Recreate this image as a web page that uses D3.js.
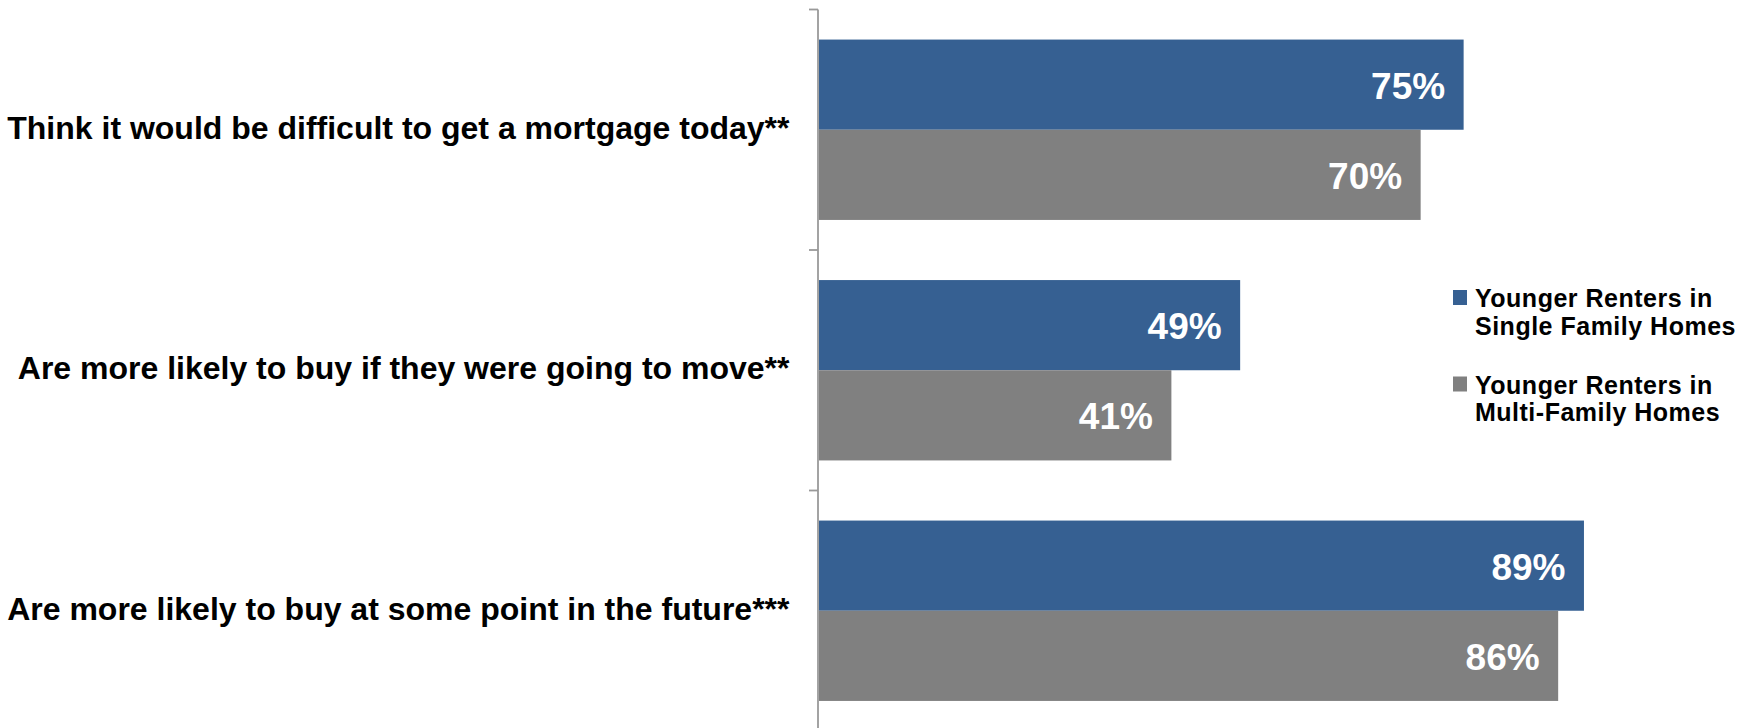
<!DOCTYPE html>
<html>
<head>
<meta charset="utf-8">
<script src="https://cdn.jsdelivr.net/npm/d3@7"></script>
<style>
  html, body { margin: 0; padding: 0; background: #fff; }
  svg { display: block; }
  text { font-family: "Liberation Sans", Arial, sans-serif; }
</style>
</head>
<body>
<svg id="chart" width="1757" height="728"></svg>
<script>
// Survey questions (one group of bars per question)
const categories = [
  "Think it would be difficult to get a mortgage today**",
  "Are more likely to buy if they were going to move**",
  "Are more likely to buy at some point in the future***"
];

// Share of respondents agreeing, per renter group
const seriesNames = [
  "Younger Renters in Single Family Homes",
  "Younger Renters in Multi-Family Homes"
];
const singleFamily = [0.75, 0.49, 0.89];
const multiFamily  = [0.70, 0.41, 0.86];

// Legend text, broken into lines
const legendLines = [
  ["Younger Renters in", "Single Family Homes"],
  ["Younger Renters in", "Multi-Family Homes"]
];

const colors = ["#366092", "#808080"];

const svg = d3.select("#chart");

// Horizontal value scale (0–100%) and vertical band scale for questions
const x = d3.scaleLinear().domain([0, 1]).range([819, 1678.5]);
const y = d3.scaleBand()
  .domain(categories)
  .range([9.5, 731])
  .paddingInner(0.25)
  .paddingOuter(0.125);
const ySub = d3.scaleBand()
  .domain(seriesNames)
  .range([0, y.bandwidth()]);

const rows = categories.map((c, i) => ({
  category: c,
  values: [singleFamily[i], multiFamily[i]]
}));

// Bars
const groups = svg.selectAll("g.group")
  .data(rows)
  .join("g")
  .attr("class", "group")
  .attr("transform", d => `translate(0,${y(d.category)})`);

groups.selectAll("rect")
  .data(d => d.values.map((v, k) => ({ v, k })))
  .join("rect")
  .attr("x", x(0))
  .attr("y", d => ySub(seriesNames[d.k]))
  .attr("width", d => x(d.v) - x(0))
  .attr("height", ySub.bandwidth())
  .attr("fill", d => colors[d.k]);

// Value labels inside the bar ends
groups.selectAll("text.value")
  .data(d => d.values.map((v, k) => ({ v, k })))
  .join("text")
  .attr("class", "value")
  .attr("x", d => x(d.v) - 18.5)
  .attr("y", d => ySub(seriesNames[d.k]) + ySub.bandwidth() / 2 + 14)
  .attr("text-anchor", "end")
  .attr("font-size", 37)
  .attr("font-weight", "bold")
  .attr("fill", "#ffffff")
  .text(d => d3.format(".0%")(d.v));

// Vertical category axis: line plus ticks at band boundaries
const axisColor = "#999999";
const step = y.step();
const boundaries = d3.range(categories.length + 1)
  .map(i => y.range()[0] + i * step);

svg.append("line")
  .attr("x1", x(0) - 1).attr("x2", x(0) - 1)
  .attr("y1", y.range()[0]).attr("y2", 728)
  .attr("stroke", axisColor)
  .attr("stroke-width", 1.8);

svg.selectAll("line.tick")
  .data(boundaries)
  .join("line")
  .attr("class", "tick")
  .attr("x1", x(0) - 10).attr("x2", x(0) - 1)
  .attr("y1", d => d).attr("y2", d => d)
  .attr("stroke", axisColor)
  .attr("stroke-width", 1.8);

// Category labels, right-aligned against the axis
svg.selectAll("text.cat")
  .data(categories)
  .join("text")
  .attr("class", "cat")
  .attr("x", 789.5)
  .attr("y", d => y(d) + y.bandwidth() / 2 + 9)
  .attr("text-anchor", "end")
  .attr("font-size", 32)
  .attr("font-weight", "bold")
  .attr("fill", "#000")
  .text(d => d);

// Legend
const legend = svg.append("g").attr("transform", "translate(1453,290)");
const entryGap = 86.5;
const lineGap = 27.5;

const entries = legend.selectAll("g.entry")
  .data(seriesNames)
  .join("g")
  .attr("class", "entry")
  .attr("transform", (d, i) => `translate(0,${i * entryGap})`);

entries.append("rect")
  .attr("x", 0).attr("y", 0)
  .attr("width", 14).attr("height", 15)
  .attr("fill", (d, i) => colors[i]);

entries.append("text")
  .attr("x", 22)
  .attr("y", 17)
  .attr("font-size", 25)
  .attr("font-weight", "bold")
  .attr("letter-spacing", 0.5)
  .attr("fill", "#000")
  .selectAll("tspan")
  .data((d, i) => legendLines[i])
  .join("tspan")
  .attr("x", 22)
  .attr("dy", (d, j) => j === 0 ? 0 : lineGap)
  .text(d => d);
</script>
</body>
</html>
